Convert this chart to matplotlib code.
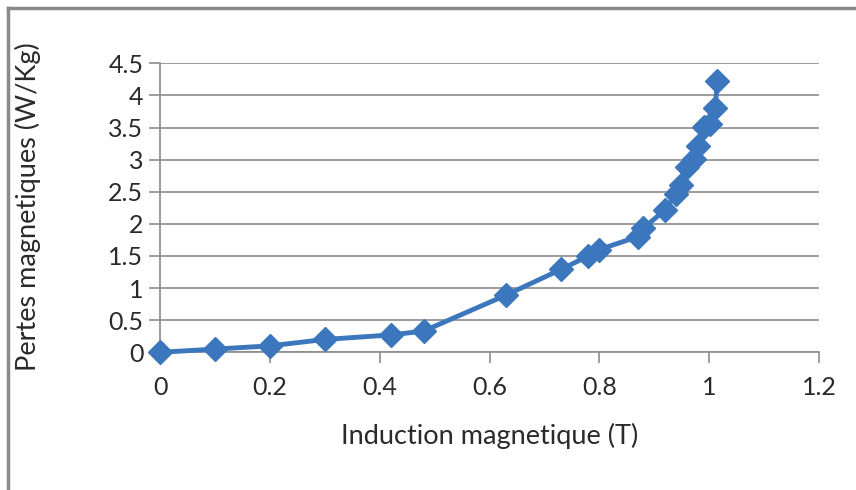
import matplotlib
matplotlib.use("Agg")
import matplotlib.pyplot as plt
from matplotlib.lines import Line2D

plt.rcParams['font.family'] = ['Lato', 'DejaVu Sans']

# induction (T) and losses (W/Kg)
induction = [0, 0.1, 0.2, 0.3, 0.42, 0.48, 0.63, 0.73, 0.78, 0.80, 0.87, 0.88,
             0.92, 0.94, 0.948, 0.96, 0.972, 0.98, 0.99, 1.002, 1.011, 1.015]
pertes = [0, 0.05, 0.1, 0.2, 0.27, 0.33, 0.89, 1.29, 1.5, 1.6, 1.8, 1.93,
          2.22, 2.47, 2.61, 2.89, 3.01, 3.21, 3.51, 3.56, 3.81, 4.22]
xticks = [0, 0.2, 0.4, 0.6, 0.8, 1, 1.2]
xtick_labels = ['0', '0.2', '0.4', '0.6', '0.8', '1', '1.2']
yticks = [0, 0.5, 1, 1.5, 2, 2.5, 3, 3.5, 4, 4.5]
ytick_labels = ['0', '0.5', '1', '1.5', '2', '2.5', '3', '3.5', '4', '4.5']

blue = '#3c77be'
grey = '#8c8c8c'
txt = '#2a2a2a'
W, H = 856, 490

fig = plt.figure(figsize=(W/100, H/100), dpi=100)
ax = fig.add_axes([160/W, 1 - 352.3/H, 659/W, 289/H])

ax.plot(induction, pertes, color=blue, lw=3.5, marker='D', ms=12,
        mec=blue, mfc=blue, clip_on=False, zorder=3)

ax.set_xlim(0, 1.2)
ax.set_ylim(0, 4.5)
ax.set_xticks(xticks)
ax.set_xticklabels(xtick_labels)
ax.set_yticks(yticks)
ax.set_yticklabels(ytick_labels)
ax.grid(axis='y', color=grey, lw=1.2)
ax.set_axisbelow(True)
for s in ['top', 'right']:
    ax.spines[s].set_visible(False)
for s in ['left', 'bottom']:
    ax.spines[s].set_color(grey)
    ax.spines[s].set_linewidth(1.2)
ax.tick_params(axis='both', direction='out', length=8, width=1.2, color=grey,
               labelsize=18, labelcolor=txt, pad=9)
ax.tick_params(axis='y', pad=4)

ax.set_xlabel('Induction magnetique (T)', fontsize=19.5, color=txt, labelpad=17)
fig.text(28/W, 1 - 207/H, 'Pertes magnetiques (W/Kg)', rotation=90,
         ha='center', va='center', fontsize=19.5, color=txt)

# outer chart frame (only left and top edges are visible in the crop)
fig.add_artist(Line2D([8/W, 8/W], [0, 1 - 8/H], color='#8a8a8a', lw=2.5))
fig.add_artist(Line2D([8/W, 1], [1 - 8/H, 1 - 8/H], color='#8a8a8a', lw=2.5))

fig.savefig('out.png', dpi=100)
